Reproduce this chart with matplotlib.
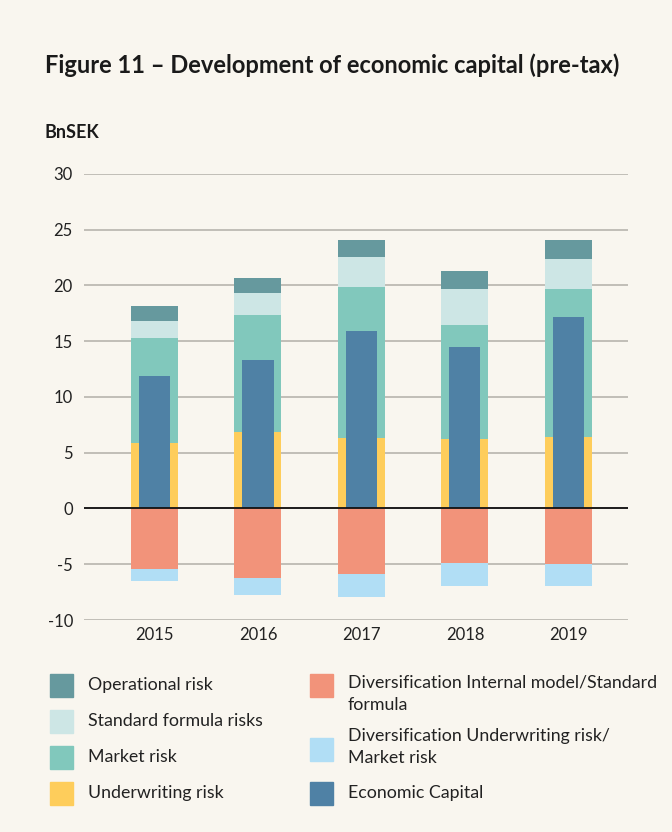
import numpy as np
import matplotlib.pyplot as plt
from matplotlib.patches import Rectangle

plt.rcParams['font.family'] = ['Lato', 'DejaVu Sans']
plt.rcParams['axes.unicode_minus'] = False

years = ['2015', '2016', '2017', '2018', '2019']
underwriting = [5.85, 6.84, 6.30, 6.22, 6.40]
market = [9.40, 10.48, 13.53, 10.21, 13.26]
standard_formula = [1.60, 1.97, 2.69, 3.23, 2.68]
operational = [1.35, 1.34, 1.52, 1.61, 1.70]
div_internal = [-5.43, -6.23, -5.87, -4.89, -4.98]
div_underwriting = [-1.04, -1.52, -2.06, -2.05, -1.96]
economic_capital = [11.85, 13.29, 15.90, 14.46, 17.14]

bg = '#f9f6ef'
c_op = '#66999e'
c_std = '#cde6e5'
c_mkt = '#81c8bc'
c_uw = '#fecd5b'
c_divim = '#f2937a'
c_divuw = '#b1def5'
c_ec = '#4f81a5'

fig = plt.figure(figsize=(6.72, 8.32), dpi=100, facecolor=bg)
ax = fig.add_axes([0.125, 0.2548, 0.8095, 0.5361], facecolor=bg)

x = np.arange(len(years))
w = 0.454
uw = np.array(underwriting)
mk = np.array(market)
sf = np.array(standard_formula)
op = np.array(operational)
dim = np.array(div_internal)

ax.bar(x, uw, w, color=c_uw, zorder=3)
ax.bar(x, mk, w, bottom=uw, color=c_mkt, zorder=3)
ax.bar(x, sf, w, bottom=uw + mk, color=c_std, zorder=3)
ax.bar(x, op, w, bottom=uw + mk + sf, color=c_op, zorder=3)
ax.bar(x, dim, w, color=c_divim, zorder=3)
ax.bar(x, div_underwriting, w, bottom=dim, color=c_divuw, zorder=3)
ax.bar(x, economic_capital, 0.30, color=c_ec, zorder=4)

ax.set_xlim(-0.681, 4.575)
ax.set_ylim(-10, 30)
ax.set_yticks(range(-10, 31, 5))
ax.set_xticks(x)
ax.set_xticklabels(years)
for s in ax.spines.values():
    s.set_visible(False)
ax.tick_params(length=0, labelsize=12, colors='#222222')
ax.tick_params(axis='y', pad=8)
ax.tick_params(axis='x', pad=5)
ax.yaxis.grid(True, color='#b8b4ae', linewidth=1.2, zorder=0)
ax.axhline(0, color='#111111', linewidth=1.3, zorder=5)

fig.text(45 / 672, 1 - 65 / 832, 'Figure 11 \u2013 Development of economic capital (pre-tax)',
         fontsize=17, fontweight='bold', color='#1a1a1a', va='center', ha='left')
fig.text(45 / 672, 1 - 133 / 832, 'BnSEK', fontsize=13, fontweight='bold',
         color='#1a1a1a', va='center', ha='left')

# legend drawn by hand in figure pixels
left_items = [(c_op, 'Operational risk', 685), (c_std, 'Standard formula risks', 721),
              (c_mkt, 'Market risk', 757), (c_uw, 'Underwriting risk', 793)]
right_items = [(c_divim, 'Diversification Internal model/Standard\nformula', 685),
               (c_divuw, 'Diversification Underwriting risk/\nMarket risk', 749),
               (c_ec, 'Economic Capital', 793)]


def legend_entry(color, label, yc, xs, xt, ytext=None):
    sq = 23
    fig.patches.append(Rectangle((xs / 672, 1 - (yc + sq / 2) / 832), sq / 672, sq / 832,
                                 transform=fig.transFigure, color=color))
    if ytext is None:
        ytext = yc
    fig.text(xt / 672, 1 - ytext / 832, label, fontsize=12.8, color='#222222',
             va='top' if '\n' in label else 'center', ha='left', linespacing=1.45)


for c, lbl, yc in left_items:
    legend_entry(c, lbl, yc, 50, 88)
legend_entry(right_items[0][0], right_items[0][1], 685, 310, 348, 675)
legend_entry(right_items[1][0], right_items[1][1], 749, 310, 348, 728)
legend_entry(right_items[2][0], right_items[2][1], 793, 310, 348)

fig.savefig('out.png', dpi=100, facecolor=bg)
